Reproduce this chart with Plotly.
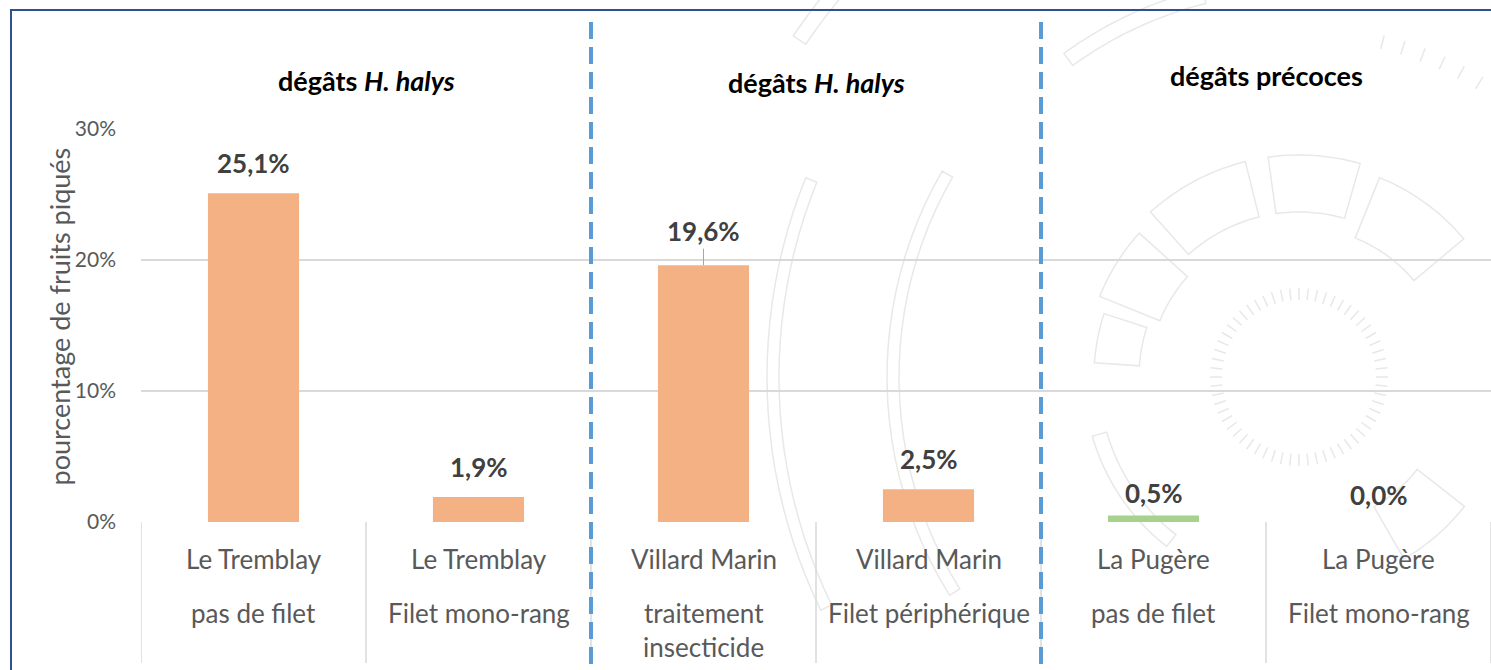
import math
import plotly.graph_objects as go

categories = ["Le Tremblay|pas de filet", "Le Tremblay|Filet mono-rang",
              "Villard Marin|traitement insecticide", "Villard Marin|Filet périphérique",
              "La Pugère|pas de filet", "La Pugère|Filet mono-rang"]
line1 = ["Le Tremblay", "Le Tremblay", "Villard Marin", "Villard Marin", "La Pugère", "La Pugère"]
line2 = [["pas de filet"], ["Filet mono-rang"], ["traitement", "insecticide"], ["Filet périphérique"],
         ["pas de filet"], ["Filet mono-rang"]]
values = [0.251, 0.019, 0.196, 0.025, 0.005, 0.0]
labels = ["25,1%", "1,9%", "19,6%", "2,5%", "0,5%", "0,0%"]
bar_colors = ["#F4B183", "#F4B183", "#F4B183", "#F4B183", "#A9D18E", "#A9D18E"]
group_titles = ["dégâts <i>H. halys</i>", "dégâts <i>H. halys</i>", "dégâts précoces"]
y_ticks = [0, 0.1, 0.2, 0.3]
y_ticktext = ["0%", "10%", "20%", "30%"]

W, H = 1491, 670
L, R, T, B = 141, 0, 129, 148
PH = H - T - B
PW = W - L - R

def py(px):  # pixel y -> paper y
    return (H - B - px) / PH

def pxx(px):  # pixel x -> paper x
    return (px - L) / PW

FONT = "Lato"
WM = "#E8E8E8"
xs = list(range(len(categories)))

fig = go.Figure()
fig.add_trace(go.Bar(x=xs, y=values, marker=dict(color=bar_colors, line=dict(width=0)),
                     width=0.405, hoverinfo="skip"))

ann = []
# data labels
label_shift = [12, 12, 0, 12, 4, 9]
for i, (v, t) in enumerate(zip(values, labels)):
    if i == 2:
        ann.append(dict(x=i, y=v, xref="x", yref="y", text=f"<b>{t}</b>", showarrow=True,
                        arrowhead=0, arrowwidth=1, arrowcolor="#A6A6A6", ax=0, ay=-34,
                        standoff=0, font=dict(family=FONT, size=26, color="#404040")))
    else:
        ann.append(dict(x=i, y=v, xref="x", yref="y", text=f"<b>{t}</b>", showarrow=False,
                        yanchor="bottom", yshift=label_shift[i],
                        font=dict(family=FONT, size=26, color="#404040")))
# category labels
for i in xs:
    ann.append(dict(x=i, y=py(559), xref="x", yref="paper", text=line1[i], showarrow=False,
                    yanchor="middle", font=dict(family=FONT, size=26, color="#595959")))
    for k, s in enumerate(line2[i]):
        ann.append(dict(x=i, y=py(613 + 34 * k), xref="x", yref="paper", text=s, showarrow=False,
                        yanchor="middle", font=dict(family=FONT, size=26, color="#595959")))
# group titles
for x, y, t in zip([0.5, 2.5, 4.5], [80, 82, 75], group_titles):
    ann.append(dict(x=x, y=py(y), xref="x", yref="paper", text=f"<b>{t}</b>", showarrow=False,
                    yanchor="middle", font=dict(family=FONT, size=27, color="#000000")))
# y title
ann.append(dict(x=pxx(40), y=py(317), xref="paper", yref="paper", text="pourcentage de fruits piqués",
                textangle=-90, showarrow=False, font=dict(family=FONT, size=27, color="#595959")))

shapes = []

# --- faint decorative watermark (background) ---
CX, CY = 1299, 377

def seg_path(r1, r2, a1, a2, n=24):
    pts = []
    for j in range(n + 1):
        a = math.radians(a1 + (a2 - a1) * j / n)
        pts.append((CX + r2 * math.cos(a), CY - r2 * math.sin(a)))
    for j in range(n + 1):
        a = math.radians(a2 - (a2 - a1) * j / n)
        pts.append((CX + r1 * math.cos(a), CY - r1 * math.sin(a)))
    return "M " + " L ".join(f"{pxx(x):.5f},{py(y):.5f}" for x, y in pts) + " Z"

def ticks_path(r1, r2, a1, a2, step):
    parts = []
    a = a1
    while a <= a2 + 1e-6:
        ar = math.radians(a)
        x1, y1 = CX + r1 * math.cos(ar), CY - r1 * math.sin(ar)
        x2, y2 = CX + r2 * math.cos(ar), CY - r2 * math.sin(ar)
        parts.append(f"M {pxx(x1):.5f},{py(y1):.5f} L {pxx(x2):.5f},{py(y2):.5f}")
        a += step
    return " ".join(parts)

wm_paths = [
    ticks_path(77, 89, 0, 354, 6),
    ticks_path(338, 352, 48, 76, 3.5),
    seg_path(150, 215, 138, 158),
    seg_path(165, 222, 104, 132),
    seg_path(165, 222, 74, 98),
    seg_path(150, 215, 40, 68),
    seg_path(160, 205, 162, 176),
    seg_path(200, 215, 196, 232),
    seg_path(150, 210, 300, 322),
    seg_path(385, 400, 104, 126),
    seg_path(400, 412, 150, 212),
    seg_path(520, 532, 158, 206),
    seg_path(595, 610, 128, 146),
]
for p in wm_paths:
    shapes.append(dict(type="path", xref="paper", yref="paper", path=p, layer="below",
                       line=dict(color=WM, width=1.5)))

# category divider lines
for b in [-0.5, 0.5, 1.5, 2.5, 3.5, 4.5, 5.5]:
    shapes.append(dict(type="line", xref="x", yref="paper", x0=b, x1=b, y0=0, y1=py(663),
                       line=dict(color="#D9D9D9", width=1.5)))
# dashed separators
for b in [1.5, 3.5]:
    shapes.append(dict(type="line", xref="x", yref="paper", x0=b, x1=b, y0=py(22), y1=py(675),
                       line=dict(color="#5B9BD5", width=4, dash="17px,8px")))
# border
shapes.append(dict(type="rect", xref="paper", yref="paper", x0=pxx(11), x1=pxx(1500),
                   y0=py(690), y1=py(10), line=dict(color="#2F528F", width=2), layer="above"))

fig.update_layout(
    width=W, height=H, margin=dict(l=L, r=R, t=T, b=B),
    paper_bgcolor="white", plot_bgcolor="rgba(0,0,0,0)", showlegend=False,
    font=dict(family=FONT),
    xaxis=dict(range=[-0.5, 5.5], showticklabels=False, showgrid=False, zeroline=False,
               showline=False, ticks=""),
    yaxis=dict(range=[0, 0.3], tickvals=y_ticks, ticktext=y_ticktext, showgrid=True,
               gridcolor="#D9D9D9", gridwidth=1.5, zeroline=False, showline=False, ticks="",
               ticklabelstandoff=24, tickfont=dict(family=FONT, size=21, color="#595959")),
    annotations=ann, shapes=shapes,
)
fig.write_html("out.html", config={"displayModeBar": False},
               post_script="document.body.style.margin='0';document.body.style.overflow='hidden';")
